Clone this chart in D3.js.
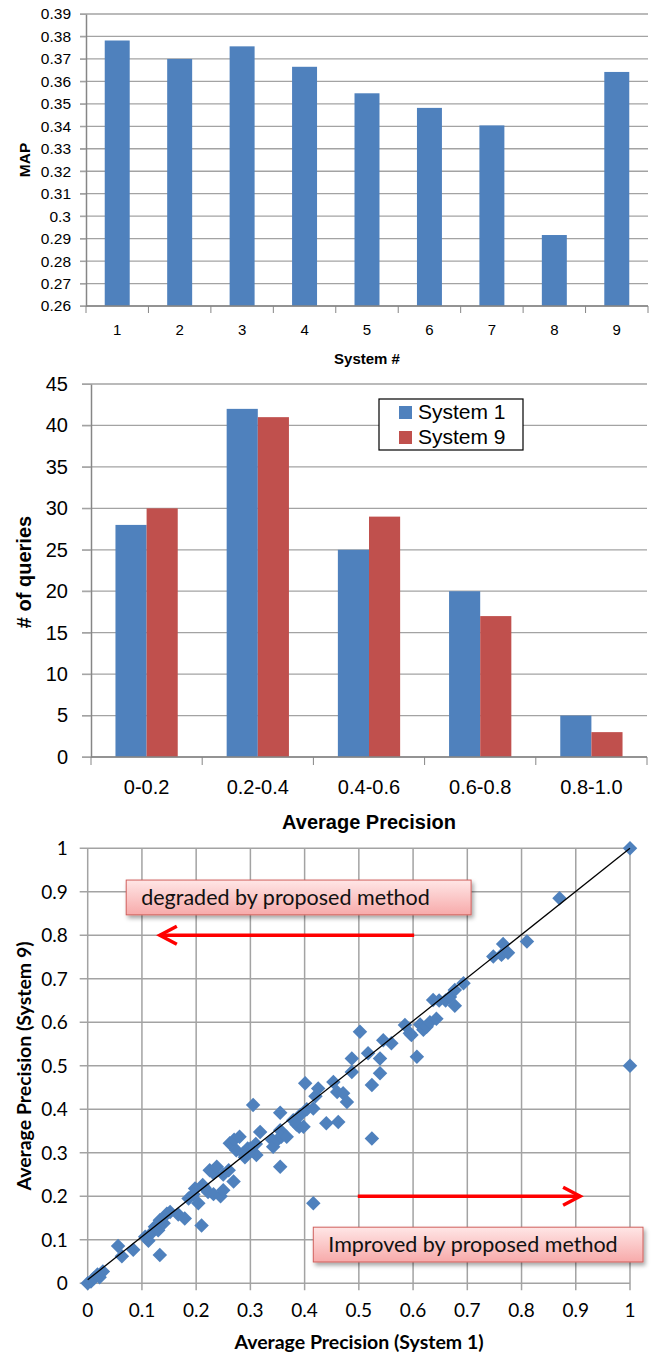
<!DOCTYPE html>
<html>
<head>
<meta charset="utf-8">
<script src="https://cdn.jsdelivr.net/npm/d3@7/dist/d3.min.js"></script>
<style>
    body { margin: 0; background: #ffffff; }
    svg { display: block; }
</style>
</head>
<body>
<div class="figure"></div>
<script>
// ---- top chart: MAP of each system
const systems = ["1", "2", "3", "4", "5", "6", "7", "8", "9"];
const mapValues = [0.3782, 0.3700, 0.3756, 0.3665, 0.3547, 0.3482, 0.3404, 0.2916, 0.3642];
const mapTicks = [0.26, 0.27, 0.28, 0.29, 0.30, 0.31, 0.32, 0.33, 0.34, 0.35, 0.36, 0.37, 0.38, 0.39];

// ---- middle chart: number of queries per AP bin
const apBins = ["0-0.2", "0.2-0.4", "0.4-0.6", "0.6-0.8", "0.8-1.0"];
const seriesNames = ["System 1", "System 9"];
const system1Counts = [28, 42, 25, 20, 5];
const system9Counts = [30, 41, 29, 17, 3];
const countTicks = [0, 5, 10, 15, 20, 25, 30, 35, 40, 45];

// ---- bottom chart: per query AP, [system 1, system 9]
const queryAP = [
    [0, 0], [0.006, 0.004], [0.012, 0.012], [0.018, 0.02], [0.022, 0.014], [0.028, 0.027],
    [0.056, 0.086], [0.063, 0.062], [0.084, 0.077],
    [0.106, 0.107], [0.112, 0.098], [0.118, 0.116], [0.124, 0.13], [0.13, 0.122], [0.133, 0.145],
    [0.133, 0.065], [0.14, 0.138], [0.146, 0.16], [0.152, 0.164], [0.167, 0.158], [0.179, 0.149],
    [0.186, 0.195], [0.198, 0.218], [0.195, 0.205],
    [0.204, 0.184], [0.21, 0.133], [0.212, 0.226], [0.215, 0.22], [0.222, 0.21], [0.232, 0.205],
    [0.225, 0.26], [0.232, 0.253], [0.238, 0.268], [0.245, 0.2], [0.25, 0.214], [0.25, 0.25],
    [0.26, 0.26], [0.269, 0.234], [0.262, 0.322], [0.27, 0.33], [0.274, 0.306], [0.28, 0.337],
    [0.287, 0.299], [0.29, 0.29], [0.295, 0.31],
    [0.3, 0.31], [0.305, 0.41], [0.311, 0.295], [0.31, 0.32], [0.318, 0.348], [0.34, 0.33],
    [0.342, 0.314], [0.35, 0.33], [0.355, 0.352], [0.357, 0.337], [0.367, 0.337], [0.355, 0.392],
    [0.355, 0.268], [0.379, 0.375], [0.385, 0.365], [0.39, 0.36], [0.392, 0.387], [0.398, 0.36],
    [0.401, 0.46], [0.404, 0.4], [0.416, 0.402], [0.42, 0.43], [0.425, 0.448], [0.416, 0.184],
    [0.44, 0.368], [0.453, 0.463], [0.462, 0.371], [0.46, 0.44], [0.471, 0.437], [0.478, 0.417],
    [0.487, 0.517], [0.487, 0.486],
    [0.502, 0.578], [0.517, 0.529], [0.524, 0.456], [0.524, 0.333], [0.539, 0.517], [0.539, 0.483],
    [0.545, 0.559], [0.56, 0.552], [0.585, 0.594], [0.594, 0.575], [0.597, 0.571],
    [0.607, 0.521], [0.613, 0.595], [0.619, 0.583], [0.625, 0.59], [0.631, 0.6], [0.643, 0.608],
    [0.637, 0.651], [0.648, 0.65], [0.66, 0.65], [0.668, 0.658], [0.677, 0.674], [0.677, 0.638],
    [0.693, 0.69],
    [0.748, 0.751], [0.763, 0.755], [0.775, 0.76], [0.766, 0.78], [0.81, 0.786], [0.87, 0.885],
    [1, 1], [1, 0.5]
];
const apTicks = [0, 0.1, 0.2, 0.3, 0.4, 0.5, 0.6, 0.7, 0.8, 0.9, 1];
const diagonalLine = [[0, 0.008], [1, 1]];

// annotation boxes and arrows, in data units of the scatter
const noteLabels = ["degraded by proposed method", "Improved by proposed method"];
const noteBoxes = [[0.071, 0.927, 0.707, 0.847], [0.416, 0.129, 1.024, 0.049]];
const noteArrows = [[0.602, 0.8, 0.133, 0.8], [0.498, 0.2, 0.908, 0.2]];

const blue = "#4f81bd";
const red = "#c0504d";
const gridColor = "#a3a3a3";
const axisColor = "#868686";
const arial = "'Liberation Sans', Arial, Helvetica, sans-serif";
const calibri = "Lato, 'Open Sans', sans-serif";

const svg = d3.select(".figure")
    .append("svg")
    .attr("width", 655)
    .attr("height", 1355);

const fmt = v => String(+v.toFixed(2));

// ================= TOP: MAP bar chart =================
const box1 = {left: 86, right: 648, top: 14, bottom: 306};
const g1 = svg.append("g").attr("font-family", arial);

const x1 = d3.scaleBand().domain(systems).range([box1.left, box1.right]);
const y1 = d3.scaleLinear().domain([0.26, 0.39]).range([box1.bottom, box1.top]);

// gridlines
g1.selectAll(".grid").data(mapTicks).enter().append("line")
    .attr("x1", box1.left - 6).attr("x2", box1.right)
    .attr("y1", d => y1(d)).attr("y2", d => y1(d))
    .attr("stroke", gridColor).attr("stroke-width", 1.3);

g1.selectAll(".bar").data(mapValues).enter().append("rect")
    .attr("x", (d, i) => x1(systems[i]) + x1.bandwidth() * 0.3)
    .attr("width", x1.bandwidth() * 0.4)
    .attr("y", d => y1(d))
    .attr("height", d => y1(0.26) - y1(d))
    .attr("fill", blue);

const yAxis1 = g1.append("g")
    .attr("transform", `translate(${box1.left},0)`)
    .call(d3.axisLeft(y1).tickValues(mapTicks).tickFormat(fmt).tickSize(6).tickPadding(9).tickSizeOuter(0));
yAxis1.attr("font-family", arial);
yAxis1.selectAll("text").attr("font-size", 15.5).attr("fill", "#000").attr("font-family", arial);

// bottom axis with ticks on category boundaries
g1.append("line").attr("x1", box1.left).attr("x2", box1.right)
    .attr("y1", box1.bottom).attr("y2", box1.bottom).attr("stroke", axisColor).attr("stroke-width", 1.5);
const bounds1 = systems.map(d => x1(d)).concat([box1.right]);
g1.selectAll(".xt").data(bounds1).enter().append("line")
    .attr("x1", d => d).attr("x2", d => d)
    .attr("y1", box1.bottom).attr("y2", box1.bottom + 7)
    .attr("stroke", axisColor);
g1.selectAll(".xl").data(systems).enter().append("text")
    .attr("x", d => x1(d) + x1.bandwidth() / 2)
    .attr("y", 335)
    .attr("text-anchor", "middle")
    .attr("font-size", 15)
    .text(d => d);
yAxis1.select(".domain").attr("stroke", axisColor).attr("stroke-width", 1.5);
yAxis1.selectAll(".tick line").attr("stroke", gridColor);

g1.append("text").attr("x", (box1.left + box1.right) / 2).attr("y", 364)
    .attr("text-anchor", "middle").attr("font-size", 15).attr("font-weight", "bold")
    .text("System #");
g1.append("text").attr("transform", `translate(30,${(box1.top + box1.bottom) / 2}) rotate(-90)`)
    .attr("text-anchor", "middle").attr("font-size", 15.5).attr("font-weight", "bold")
    .text("MAP");

// ================= MIDDLE: grouped histogram =================
const box2 = {left: 91, right: 647, top: 384, bottom: 757};
const g2 = svg.append("g").attr("font-family", arial);

const x2 = d3.scaleBand().domain(apBins).range([box2.left, box2.right]);
const x2inner = d3.scaleBand().domain(seriesNames).range([0, x2.bandwidth() * 0.56]);
const y2 = d3.scaleLinear().domain([0, 45]).range([box2.bottom, box2.top]);

g2.selectAll(".grid").data(countTicks).enter().append("line")
    .attr("x1", box2.left - 9).attr("x2", box2.right)
    .attr("y1", d => y2(d)).attr("y2", d => y2(d))
    .attr("stroke", gridColor).attr("stroke-width", 1.3);

const groupRows = apBins.map((bin, i) => ({bin: bin, values: [system1Counts[i], system9Counts[i]]}));
const groups = g2.selectAll(".grp").data(groupRows).enter().append("g")
    .attr("transform", d => `translate(${x2(d.bin) + x2.bandwidth() * 0.22},0)`);
groups.selectAll("rect").data(d => d.values).enter().append("rect")
    .attr("x", (d, i) => x2inner(seriesNames[i]))
    .attr("width", x2inner.bandwidth())
    .attr("y", d => y2(d))
    .attr("height", d => y2(0) - y2(d))
    .attr("fill", (d, i) => i === 0 ? blue : red);

const yAxis2 = g2.append("g")
    .attr("transform", `translate(${box2.left},0)`)
    .call(d3.axisLeft(y2).tickValues(countTicks).tickSize(9).tickPadding(14).tickSizeOuter(0));
yAxis2.attr("font-family", arial);
yAxis2.selectAll("text").attr("font-size", 20).attr("fill", "#000").attr("font-family", arial);
yAxis2.select(".domain").attr("stroke", axisColor).attr("stroke-width", 1.5);
yAxis2.selectAll(".tick line").attr("stroke", gridColor);

g2.append("line").attr("x1", box2.left).attr("x2", box2.right)
    .attr("y1", box2.bottom).attr("y2", box2.bottom).attr("stroke", axisColor).attr("stroke-width", 1.5);
const bounds2 = apBins.map(d => x2(d)).concat([box2.right]);
g2.selectAll(".xt").data(bounds2).enter().append("line")
    .attr("x1", d => d).attr("x2", d => d)
    .attr("y1", box2.bottom).attr("y2", box2.bottom + 8)
    .attr("stroke", axisColor);
g2.selectAll(".xl").data(apBins).enter().append("text")
    .attr("x", d => x2(d) + x2.bandwidth() / 2)
    .attr("y", 794)
    .attr("text-anchor", "middle")
    .attr("font-size", 20)
    .text(d => d);

g2.append("text").attr("x", (box2.left + box2.right) / 2).attr("y", 829)
    .attr("text-anchor", "middle").attr("font-size", 20).attr("font-weight", "bold")
    .text("Average Precision");
g2.append("text").attr("transform", `translate(31,572) rotate(-90)`)
    .attr("text-anchor", "middle").attr("font-size", 20).attr("font-weight", "bold")
    .text("# of queries");

// legend
const legend = g2.append("g").attr("transform", "translate(379,399)");
legend.append("rect").attr("width", 144).attr("height", 51)
    .attr("fill", "#fff").attr("stroke", "#000").attr("stroke-width", 1.2);
seriesNames.forEach((name, i) => {
    legend.append("rect").attr("x", 20).attr("y", 7 + i * 25).attr("width", 13).attr("height", 13)
        .attr("fill", i === 0 ? blue : red);
    legend.append("text").attr("x", 39).attr("y", 20 + i * 25)
        .attr("font-size", 21).text(name);
});

// ================= BOTTOM: scatter =================
const box3 = {left: 87.7, right: 630, top: 848.3, bottom: 1283.3};
const g3 = svg.append("g").attr("font-family", calibri);

const x3 = d3.scaleLinear().domain([0, 1]).range([box3.left, box3.right]);
const y3 = d3.scaleLinear().domain([0, 1]).range([box3.bottom, box3.top]);

const defs = svg.append("defs");
const grad = defs.append("linearGradient").attr("id", "noteFill")
    .attr("x1", 0).attr("y1", 0).attr("x2", 0).attr("y2", 1);
grad.append("stop").attr("offset", "0%").attr("stop-color", "#ffe6e6");
grad.append("stop").attr("offset", "100%").attr("stop-color", "#f7aaaa");
defs.append("filter").attr("id", "noteShadow").attr("x", "-10%").attr("y", "-30%")
    .attr("width", "130%").attr("height", "180%")
    .append("feDropShadow").attr("dx", 2).attr("dy", 3).attr("stdDeviation", 2)
    .attr("flood-color", "#000").attr("flood-opacity", 0.35);

// grid both ways, sticking out a bit past the axes like tick marks
g3.selectAll(".hgrid").data(apTicks).enter().append("line")
    .attr("x1", box3.left - 8).attr("x2", box3.right)
    .attr("y1", d => y3(d)).attr("y2", d => y3(d))
    .attr("stroke", gridColor).attr("stroke-width", 1.5);
g3.selectAll(".vgrid").data(apTicks).enter().append("line")
    .attr("x1", d => x3(d)).attr("x2", d => x3(d))
    .attr("y1", box3.top).attr("y2", box3.bottom + 7)
    .attr("stroke", gridColor).attr("stroke-width", 1.5);

g3.selectAll(".yl").data(apTicks).enter().append("text")
    .attr("x", box3.left - 20)
    .attr("y", d => y3(d) + 7)
    .attr("text-anchor", "end")
    .attr("font-size", 19)
    .text(d => String(+d.toFixed(1)));
g3.selectAll(".xl").data(apTicks).enter().append("text")
    .attr("x", d => x3(d))
    .attr("y", 1317)
    .attr("text-anchor", "middle")
    .attr("font-size", 19)
    .text(d => String(+d.toFixed(1)));

g3.append("text").attr("x", 359).attr("y", 1349)
    .attr("text-anchor", "middle").attr("font-size", 19.5).attr("font-weight", "bold")
    .text("Average Precision (System 1)");
g3.append("text").attr("transform", `translate(31,1066) rotate(-90)`)
    .attr("text-anchor", "middle").attr("font-size", 19.5).attr("font-weight", "bold")
    .text("Average Precision (System 9)");

// points
const diamond = d3.symbol().type(d3.symbolSquare).size(105);
g3.selectAll(".pt").data(queryAP).enter().append("path")
    .attr("d", diamond)
    .attr("transform", d => `translate(${x3(d[0])},${y3(d[1])}) rotate(45)`)
    .attr("fill", blue);

g3.append("path")
    .datum(diagonalLine)
    .attr("d", d3.line().x(d => x3(d[0])).y(d => y3(d[1])))
    .attr("stroke", "#000").attr("stroke-width", 1.3).attr("fill", "none");

// annotation boxes
noteBoxes.forEach((b, i) => {
    const bx = x3(b[0]), by = y3(b[1]);
    const bw = x3(b[2]) - bx, bh = y3(b[3]) - by;
    g3.append("rect").attr("x", bx).attr("y", by).attr("width", bw).attr("height", bh)
        .attr("fill", "url(#noteFill)").attr("stroke", "#d0605c").attr("stroke-width", 1)
        .attr("filter", "url(#noteShadow)");
    g3.append("text").attr("x", bx + 15).attr("y", by + bh / 2 + 7.5)
        .attr("font-size", 21.5).attr("fill", "#111").text(noteLabels[i]);
});

// red arrows
noteArrows.forEach(a => {
    const sx = x3(a[0]), sy = y3(a[1]), ex = x3(a[2]), ey = y3(a[3]);
    const dir = ex > sx ? 1 : -1;
    g3.append("line").attr("x1", sx).attr("y1", sy).attr("x2", ex).attr("y2", ey)
        .attr("stroke", "#ff0000").attr("stroke-width", 3.5);
    g3.append("path")
        .attr("d", `M${ex - dir * 17},${ey - 9}L${ex},${ey}L${ex - dir * 17},${ey + 9}`)
        .attr("stroke", "#ff0000").attr("stroke-width", 3.5).attr("fill", "none");
});
</script>
</body>
</html>
